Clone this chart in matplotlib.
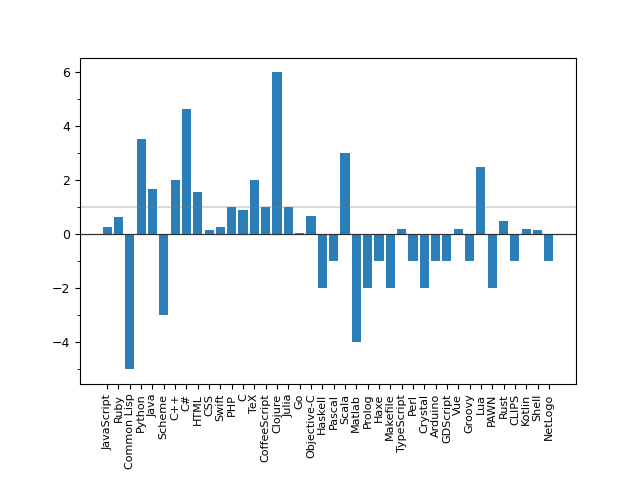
import numpy as np
import matplotlib
matplotlib.use("Agg")
import matplotlib.pyplot as plt
from matplotlib.ticker import MultipleLocator

langs = ["JavaScript", "Ruby", "Common Lisp", "Python", "Java", "Scheme", "C++", "C#",
         "HTML", "CSS", "Swift", "PHP", "C", "TeX", "CoffeeScript", "Clojure", "Julia",
         "Go", "Objective-C", "Haskell", "Pascal", "Scala", "Matlab", "Prolog", "Haxe",
         "Makefile", "TypeScript", "Perl", "Crystal", "Arduino", "GDScript", "Vue",
         "Groovy", "Lua", "PAWN", "Rust", "CLIPS", "Kotlin", "Shell", "NetLogo"]
scores = [0.27, 0.64, -5, 3.55, 1.68, -3, 2, 4.65,
          1.57, 0.15, 0.27, 1, 0.9, 2, 1, 6, 1,
          0.05, 0.68, -2, -1, 3, -4, -2, -1,
          -2, 0.19, -1, -2, -1, -1, 0.19,
          -1, 2.49, -2, 0.48, -1, 0.19, 0.16, -1]

fig, ax = plt.subplots(figsize=(6.4, 4.8), dpi=100)
x = np.arange(len(langs))
ax.bar(x, scores, color="#1f77b4", alpha=0.95)
ax.axhline(1, color="grey", alpha=0.35, linewidth=1.2)
ax.axhline(0, color="#333333", linewidth=0.9)
ax.set_xticks(x)
ax.set_xticklabels(langs, rotation=90, fontsize=8)
ax.tick_params(axis="y", labelsize=9)
ax.yaxis.set_minor_locator(MultipleLocator(1))
plt.subplots_adjust(bottom=0.2)
plt.savefig("out.png")
